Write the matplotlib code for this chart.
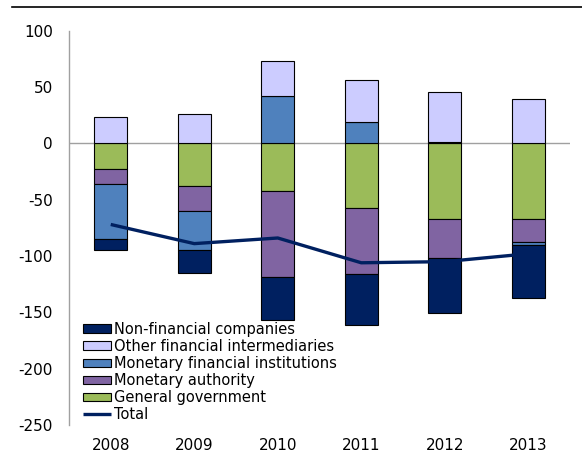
import numpy as np
import matplotlib
matplotlib.use("Agg")
import matplotlib.pyplot as plt
from matplotlib.lines import Line2D

plt.rcParams["axes.unicode_minus"] = False

years = ["2008", "2009", "2010", "2011", "2012", "2013"]

# sector contributions (stacked, Excel series order)
general_government = [-23, -38, -42, -57, -67, -67]
monetary_authority = [-13, -22, -77, -59, -35, -21]
monetary_fin_inst = [-49, -35, 42, 19, 1, -2]
other_fin_interm = [23, 26, 31, 37, 45, 39]
non_fin_companies = [-10, -20, -38, -45, -49, -47]
total = [-72, -89, -84, -106, -105, -98]

series = [
    ("General government", general_government, "#9BBB59"),
    ("Monetary authority", monetary_authority, "#8064A2"),
    ("Monetary financial institutions", monetary_fin_inst, "#4F81BD"),
    ("Other financial intermediaries", other_fin_interm, "#CCCCFF"),
    ("Non-financial companies", non_fin_companies, "#002060"),
]
line_color = "#002060"

fig = plt.figure(figsize=(5.82, 4.55), dpi=100)
ax = fig.add_axes([69 / 582, 1 - 425 / 455, 501 / 582, 394.3 / 455])

x = np.arange(len(years))
pos_base = np.zeros(len(years))
neg_base = np.zeros(len(years))
handles = {}
for name, vals, color in series:
    vals = np.array(vals, dtype=float)
    bottom = np.where(vals >= 0, pos_base, neg_base)
    b = ax.bar(x, vals, width=0.4, bottom=bottom, color=color,
               edgecolor="black", linewidth=0.8, zorder=3)
    handles[name] = b
    pos_base += np.where(vals >= 0, vals, 0)
    neg_base += np.where(vals < 0, vals, 0)

tl, = ax.plot(x, total, color=line_color, linewidth=2.4, zorder=4,
              solid_capstyle="butt")

ax.axhline(0, color="#A0A0A0", linewidth=1.0, zorder=2)

ax.set_xlim(-0.5, len(years) - 0.5)
ax.set_ylim(-250, 100)
ax.set_yticks(np.arange(-250, 101, 50))
ax.set_xticks(x)
ax.set_xticklabels(years)

for s in ["top", "right", "bottom"]:
    ax.spines[s].set_visible(False)
ax.spines["left"].set_color("#A0A0A0")
ax.spines["left"].set_linewidth(1.0)
ax.tick_params(axis="both", length=0, labelsize=11, colors="black")
ax.tick_params(axis="y", pad=11.5)
ax.tick_params(axis="x", pad=9)

order = ["Non-financial companies", "Other financial intermediaries",
         "Monetary financial institutions", "Monetary authority",
         "General government"]
leg_handles = [handles[n] for n in order] + [tl]
leg_labels = order + ["Total"]
ax.legend(leg_handles, leg_labels, loc="upper left",
          bbox_to_anchor=(83 / 582, 1 - 322 / 455),
          bbox_transform=fig.transFigure, frameon=False,
          fontsize=10.5, handlelength=1.9, handleheight=0.55,
          handletextpad=0.2, labelspacing=0.14, borderpad=0,
          borderaxespad=0)

# rule line across the top
fig.add_artist(Line2D([12 / 582, 1.0], [1 - 7 / 455, 1 - 7 / 455],
                      color="black", linewidth=1.2))

fig.savefig("out.png", dpi=100)
